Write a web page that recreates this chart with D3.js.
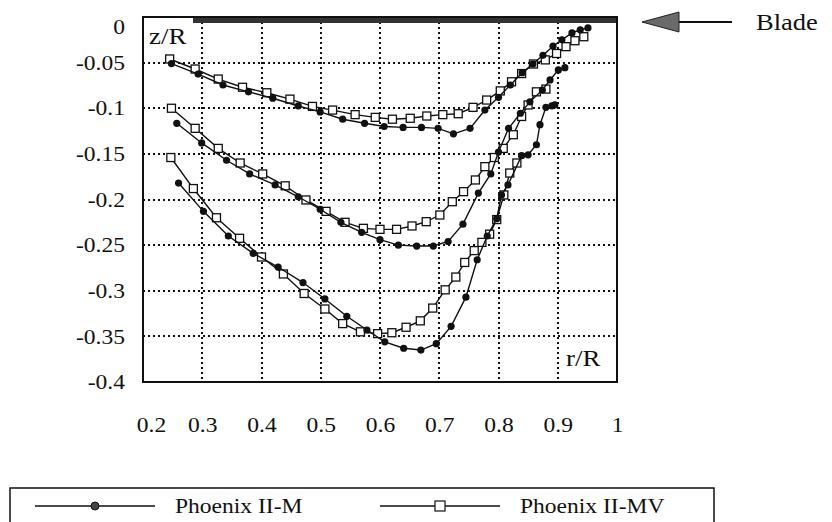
<!DOCTYPE html>
<html>
<head>
<meta charset="utf-8">
<script src="https://cdnjs.cloudflare.com/ajax/libs/d3/7.8.5/d3.min.js"></script>
<style>
  body { margin: 0; background: #fff; }
  svg text { font-family: "Liberation Serif", "Times New Roman", serif; fill: #111; }
</style>
</head>
<body>
<svg id="chart" width="832" height="522"></svg>
<script>
// values: [r/R, z/R]
var topM = [[0.248,-0.051],[0.293,-0.0625],[0.335,-0.0745],[0.378,-0.082],[0.419,-0.089],[0.462,-0.0975],
  [0.499,-0.104],[0.537,-0.112],[0.574,-0.1165],[0.607,-0.120],[0.639,-0.121],[0.670,-0.121],[0.698,-0.122],
  [0.724,-0.128],[0.752,-0.122],[0.777,-0.102],[0.800,-0.088],[0.820,-0.0745],[0.840,-0.061],[0.858,-0.0515],
  [0.875,-0.042],[0.892,-0.032],[0.907,-0.025],[0.924,-0.0175],[0.938,-0.014],[0.951,-0.012]];
var topMV = [[0.245,-0.046],[0.288,-0.057],[0.327,-0.068],[0.368,-0.077],[0.409,-0.083],[0.448,-0.090],
  [0.486,-0.098],[0.520,-0.102],[0.558,-0.107],[0.592,-0.110],[0.621,-0.112],[0.651,-0.111],[0.679,-0.1085],
  [0.706,-0.107],[0.732,-0.106],[0.757,-0.099],[0.780,-0.091],[0.803,-0.081],[0.822,-0.071],[0.839,-0.062],
  [0.859,-0.0515],[0.879,-0.047],[0.898,-0.040],[0.914,-0.0325],[0.929,-0.026],[0.944,-0.0216]];
var midM = [[0.257,-0.1165],[0.299,-0.138],[0.341,-0.157],[0.380,-0.172],[0.423,-0.184],[0.462,-0.197],
  [0.499,-0.2107],[0.534,-0.225],[0.569,-0.236],[0.600,-0.244],[0.631,-0.250],[0.662,-0.251],[0.690,-0.251],
  [0.715,-0.246],[0.740,-0.227],[0.766,-0.193],[0.787,-0.172],[0.800,-0.148],[0.817,-0.122],[0.837,-0.1055],
  [0.853,-0.093],[0.874,-0.080],[0.887,-0.069],[0.901,-0.058],[0.912,-0.0555]];
var midMV = [[0.248,-0.100],[0.288,-0.122],[0.327,-0.144],[0.364,-0.160],[0.402,-0.172],[0.440,-0.185],
  [0.475,-0.2005],[0.509,-0.213],[0.541,-0.225],[0.572,-0.2316],[0.600,-0.2327],[0.628,-0.2327],[0.654,-0.229],
  [0.678,-0.2243],[0.701,-0.217],[0.722,-0.2024],[0.741,-0.1914],[0.761,-0.1786],[0.777,-0.164],[0.793,-0.154],
  [0.808,-0.144],[0.825,-0.129],[0.839,-0.109],[0.850,-0.0964],[0.864,-0.082],[0.880,-0.079]];
var lowM = [[0.260,-0.182],[0.302,-0.213],[0.344,-0.240],[0.386,-0.259],[0.428,-0.274],[0.470,-0.291],
  [0.507,-0.309],[0.544,-0.328],[0.578,-0.343],[0.608,-0.356],[0.640,-0.363],[0.669,-0.365],[0.695,-0.358],
  [0.720,-0.339],[0.745,-0.307],[0.764,-0.266],[0.781,-0.240],[0.797,-0.221],[0.805,-0.195],[0.816,-0.184],
  [0.839,-0.152],[0.850,-0.151],[0.864,-0.140],[0.870,-0.118],[0.880,-0.099],[0.890,-0.0975],[0.895,-0.0964]];
var lowMV = [[0.247,-0.154],[0.285,-0.188],[0.324,-0.220],[0.363,-0.2425],[0.400,-0.263],[0.437,-0.2816],
  [0.472,-0.303],[0.507,-0.320],[0.537,-0.336],[0.567,-0.345],[0.596,-0.347],[0.620,-0.346],[0.644,-0.340],
  [0.668,-0.333],[0.689,-0.319],[0.710,-0.299],[0.728,-0.285],[0.743,-0.269],[0.759,-0.256],[0.772,-0.247],
  [0.785,-0.238],[0.797,-0.222],[0.809,-0.195],[0.819,-0.171],[0.831,-0.160]];

var xTicks = [0.2, 0.3, 0.4, 0.5, 0.6, 0.7, 0.8, 0.9, 1];
var yTicks = [0, -0.05, -0.1, -0.15, -0.2, -0.25, -0.3, -0.35, -0.4];
var seriesNames = ["Phoenix II-M", "Phoenix II-MV"];

var svg = d3.select("#chart");
var x = d3.scaleLinear().domain([0.2, 1]).range([143, 617]);
var y = d3.scaleLinear().domain([-0.4, 0]).range([382, 17]);

// text in the scan is a bit wider than Times, so stretch it
function stretch(sel, k) {
  sel.each(function() {
    var l = this.getComputedTextLength();
    d3.select(this).attr("textLength", l * k).attr("lengthAdjust", "spacingAndGlyphs");
  });
}

svg.append("rect").attr("width", 832).attr("height", 522).attr("fill", "#fff");

// dotted grid
var grid = svg.append("g").attr("stroke", "#111").attr("stroke-width", 2).attr("stroke-dasharray", "2,3");
grid.selectAll(".gx").data(xTicks.slice(1, -1)).enter().append("line")
    .attr("x1", function(d) { return Math.round(x(d)); }).attr("x2", function(d) { return Math.round(x(d)); })
    .attr("y1", y(0)).attr("y2", y(-0.4));
grid.selectAll(".gy").data(yTicks.slice(1, -1)).enter().append("line")
    .attr("y1", function(d) { return Math.round(y(d)); }).attr("y2", function(d) { return Math.round(y(d)); })
    .attr("x1", x(0.2)).attr("x2", x(1));

// blade band at z = 0
svg.append("line")
    .attr("x1", x(0.2)).attr("x2", x(1))
    .attr("y1", y(0) + 3).attr("y2", y(0) + 3)
    .attr("stroke", "#333").attr("stroke-width", 6);

// frame
svg.append("rect")
    .attr("x", x(0.2)).attr("y", y(0))
    .attr("width", x(1) - x(0.2)).attr("height", y(-0.4) - y(0))
    .attr("fill", "none").attr("stroke", "#111").attr("stroke-width", 2);

// axes
var yAxis = svg.append("g")
    .attr("transform", "translate(" + x(0.2) + ",0)")
    .call(d3.axisLeft(y).tickValues(yTicks).tickSize(0).tickPadding(18)
      .tickFormat(function(d) { return String(+d.toFixed(2)); }));
yAxis.select(".domain").remove();
yAxis.selectAll("text").style("font-size", "21px").attr("fill", "#111")
    .attr("dy", function(d) { return d === 0 ? "0.8em" : "0.32em"; });
stretch(yAxis.selectAll("text"), 1.12);

var xAxis = svg.append("g")
    .attr("transform", "translate(0," + y(-0.4) + ")")
    .call(d3.axisBottom(x).tickValues(xTicks).tickSize(0).tickPadding(35)
      .tickFormat(function(d) { return String(d); }));
xAxis.select(".domain").remove();
xAxis.selectAll("text").style("font-size", "21px").attr("fill", "#111")
    .attr("dx", function(d) { return d === 0.2 ? 8 : 0; });
stretch(xAxis.selectAll("text"), 1.12);

// curves
var line = d3.line().x(function(d) { return x(d[0]); }).y(function(d) { return y(d[1]); });
var curvesM = [topM, midM, lowM];
var curvesMV = [topMV, midMV, lowMV];

function drawCurve(data, filled) {
  var g = svg.append("g");
  g.append("path").attr("d", line(data))
      .attr("fill", "none").attr("stroke", "#111").attr("stroke-width", 1.4);
  if (filled) {
    g.selectAll("circle").data(data).enter().append("circle")
        .attr("cx", function(d) { return x(d[0]); })
        .attr("cy", function(d) { return y(d[1]); })
        .attr("r", 3.6).attr("fill", "#111");
  } else {
    g.selectAll("rect").data(data).enter().append("rect")
        .attr("x", function(d) { return x(d[0]) - 4; })
        .attr("y", function(d) { return y(d[1]) - 4; })
        .attr("width", 8).attr("height", 8)
        .attr("fill", "#fff").attr("stroke", "#111").attr("stroke-width", 1.3);
  }
}
curvesMV.forEach(function(c) { drawCurve(c, false); });
curvesM.forEach(function(c) { drawCurve(c, true); });

// corner labels
svg.append("rect").attr("x", x(0.2) + 1).attr("y", y(0) + 1).attr("width", 49).attr("height", 31).attr("fill", "#fff");
stretch(svg.append("text").attr("x", x(0.2) + 6).attr("y", 44).style("font-size", "24px").text("z/R"), 1.12);
svg.append("rect").attr("x", 563).attr("y", 343).attr("width", 53).attr("height", 27).attr("fill", "#fff");
stretch(svg.append("text").attr("x", 566).attr("y", 366).style("font-size", "24px").text("r/R"), 1.12);

// blade arrow
svg.append("polygon").attr("points", "642,22 679,12 679,32")
    .attr("fill", "#6a6a6a").attr("stroke", "#222").attr("stroke-width", 1);
svg.append("line").attr("x1", 679).attr("x2", 732).attr("y1", 22).attr("y2", 22)
    .attr("stroke", "#111").attr("stroke-width", 2);
stretch(svg.append("text").attr("x", 756).attr("y", 30).style("font-size", "23px").text("Blade"), 1.15);

// legend
svg.append("rect").attr("x", 10).attr("y", 488).attr("width", 704).attr("height", 60)
    .attr("fill", "none").attr("stroke", "#111").attr("stroke-width", 1.5);
var legend = svg.append("g");
var legX = [35, 380];
seriesNames.forEach(function(name, i) {
  var lx = legX[i], ly = 506;
  legend.append("line").attr("x1", lx).attr("x2", lx + 120).attr("y1", ly).attr("y2", ly)
      .attr("stroke", "#111").attr("stroke-width", 1.5);
  if (i === 0) {
    legend.append("circle").attr("cx", lx + 60).attr("cy", ly).attr("r", 4).attr("fill", "#444").attr("stroke", "#111");
  } else {
    legend.append("rect").attr("x", lx + 55).attr("y", ly - 5).attr("width", 10).attr("height", 10)
        .attr("fill", "#fff").attr("stroke", "#111").attr("stroke-width", 1.2);
  }
  stretch(legend.append("text").attr("x", lx + 140).attr("y", ly + 7)
      .style("font-size", "21px").text(name), 1.12);
});
</script>
</body>
</html>
